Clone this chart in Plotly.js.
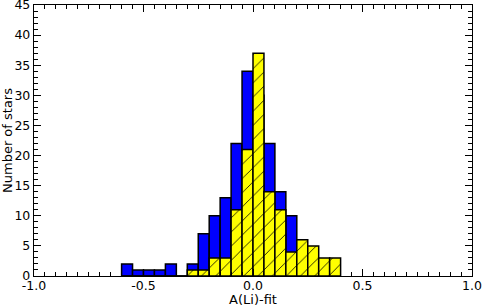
<!DOCTYPE html>
<html>
<head>
<meta charset="utf-8">
<script src="https://cdn.plot.ly/plotly-3.0.1.min.js"></script>
<style>html,body{margin:0;padding:0;background:#fff;}#chart{width:484px;height:307px;}</style>
</head>
<body>
<div id="chart"></div>
<script>
// Bin centres (bin width 0.05), from -0.575 to 0.375
const binCenters = [-0.575,-0.525,-0.475,-0.425,-0.375,-0.325,-0.275,-0.225,-0.175,-0.125,-0.075,-0.025,0.025,0.075,0.125,0.175,0.225,0.275,0.325,0.375];
const blueCounts   = [2,1,1,1,2,0,2,7,10,13,22,34,30,22,14,10,0,0,0,0];
const yellowCounts = [0,0,0,0,0,0,1,1,3,3,11,21,37,14,11,4,6,5,3,3];
const binWidth = 0.05;
const xTickVals = [-1.0,-0.5,0.0,0.5,1.0];
const xTickText = ["-1.0","-0.5","0.0","0.5","1.0"];
const yTickVals = [0,5,10,15,20,25,30,35,40,45];

const tickFont = {family: "DejaVu Sans", size: 12.5, color: "#000"};
const titleFont = {family: "DejaVu Sans", size: 13, color: "#000"};

const traces = [
  {
    type: "bar", x: binCenters, y: blueCounts, width: binWidth,
    marker: {color: "#0000ff", line: {color: "#000", width: 1.5}},
    hoverinfo: "x+y"
  },
  {
    type: "bar", x: binCenters, y: yellowCounts, width: binWidth,
    marker: {color: "#ffff00", line: {color: "#000", width: 1.5},
      pattern: {shape: "/", fgcolor: "#000", bgcolor: "#ffff00", size: 10, solidity: 0.08, fillmode: "replace"}},
    hoverinfo: "x+y"
  }
];

const layout = {
  width: 484, height: 307,
  margin: {l: 34, r: 12, t: 5, b: 31},
  paper_bgcolor: "#fff", plot_bgcolor: "#fff",
  barmode: "overlay", bargap: 0, showlegend: false,
  font: tickFont,
  xaxis: {
    range: [-1.0, 1.0], tickvals: xTickVals, ticktext: xTickText,
    ticks: "inside", ticklen: 7, tickwidth: 1, tickcolor: "#000",
    minor: {dtick: 0.05, tick0: 0, ticks: "inside", ticklen: 4, tickcolor: "#000", tickwidth: 1},
    showline: true, linecolor: "#000", linewidth: 1.2, mirror: "ticks",
    showgrid: false, zeroline: false, tickfont: tickFont,
    ticklabeloverflow: "allow", ticklabelstandoff: -2,
    title: {text: "A(Li)-fit", font: titleFont, standoff: 0},
    automargin: false
  },
  yaxis: {
    range: [0, 45], tickvals: yTickVals,
    ticks: "inside", ticklen: 7, tickwidth: 1, tickcolor: "#000",
    minor: {dtick: 1, tick0: 0, ticks: "inside", ticklen: 4, tickcolor: "#000", tickwidth: 1},
    showline: true, linecolor: "#000", linewidth: 1.2, mirror: "ticks",
    showgrid: false, zeroline: false, tickfont: tickFont,
    ticklabeloverflow: "allow",
    title: {text: "Number of stars", font: titleFont, standoff: 2},
    automargin: false
  }
};

Plotly.newPlot("chart", traces, layout, {displayModeBar: false, staticPlot: true});
</script>
</body>
</html>
